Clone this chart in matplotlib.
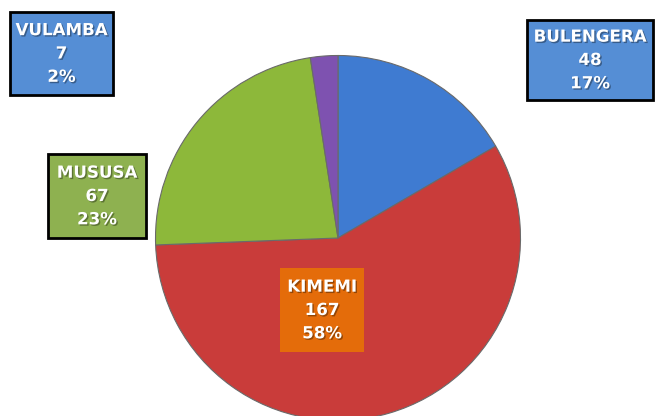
import matplotlib.pyplot as plt
import matplotlib.patches as mpatches
import matplotlib.patheffects as pe

names = ['BULENGERA', 'KIMEMI', 'MUSUSA', 'VULAMBA']
values = [48, 167, 67, 7]
colors = ['#3F7BD1', '#C93C3A', '#8DB83A', '#7E52B0']
box_colors = ['#558ED5', '#E46C0A', '#8EB150', '#558ED5']
box_edges = ['black', 'none', 'black', 'black']
# label boxes in pixel coords: left, top, right, bottom
boxes = [(527, 20, 653, 100), (280, 268, 364, 352), (48, 154, 146, 238), (10, 12, 113, 95)]

W, H = 656, 416
fig = plt.figure(figsize=(W / 100, H / 100), dpi=100)
ax = fig.add_axes([0, 0, 1, 1])

ax.pie(values, colors=colors, startangle=90, counterclock=False,
       center=(338, H - 238), radius=182.5,
       wedgeprops={'linewidth': 0.8, 'edgecolor': '#6a6a6a'})
ax.set_xlim(0, W)
ax.set_ylim(0, H)
ax.set_aspect('equal')
ax.axis('off')

total = sum(values)
for name, v, (l, t, r, b), fc, ec in zip(names, values, boxes, box_colors, box_edges):
    rect = mpatches.Rectangle((l, H - b), r - l, b - t, facecolor=fc,
                              edgecolor=ec, linewidth=2, zorder=3)
    ax.add_patch(rect)
    pct = round(100 * v / total)
    ax.text((l + r) / 2, H - (t + b) / 2, f'{name}\n{v}\n{pct}%', ha='center', va='center',
            color='white', fontsize=12, fontweight='bold', linespacing=1.38, zorder=4,
            path_effects=[pe.SimplePatchShadow(offset=(1, -1), shadow_rgbFace='black', alpha=0.35),
                          pe.Normal()])

fig.savefig('out.png', dpi=100)
